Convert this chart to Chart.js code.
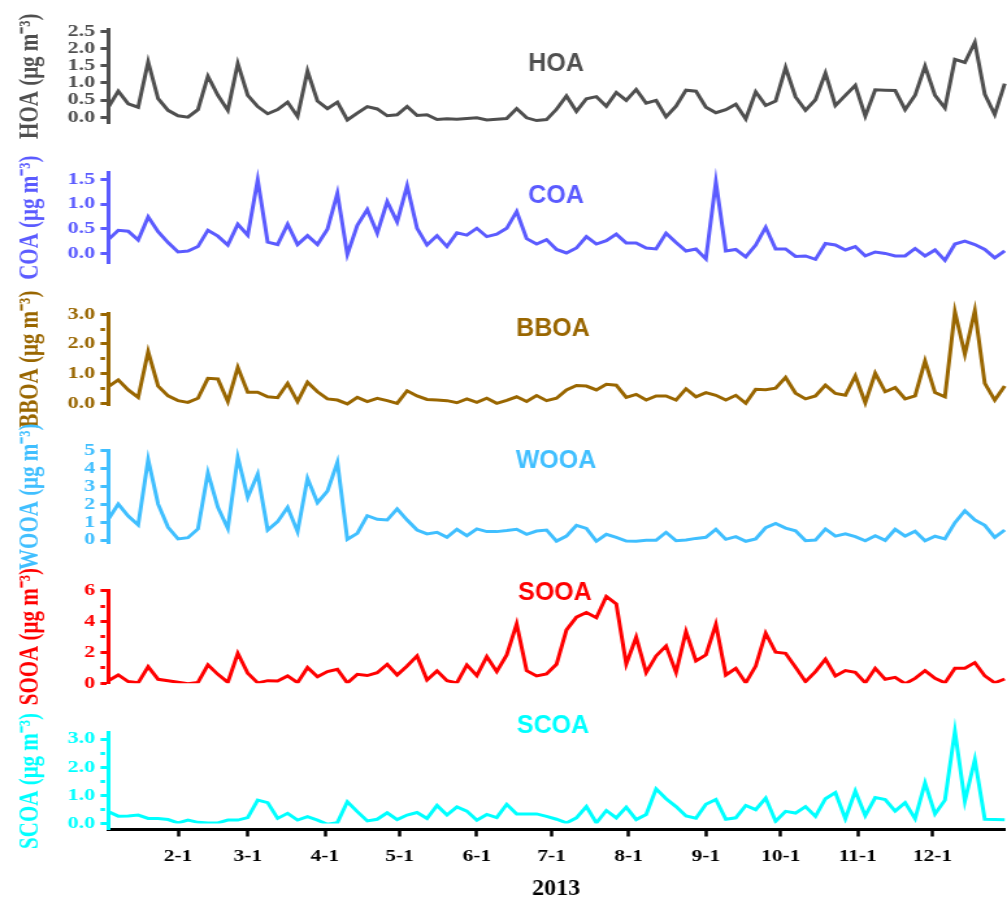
<!DOCTYPE html>
<html><head><meta charset="utf-8">
<script src="https://cdn.jsdelivr.net/npm/chart.js@4.4.1/dist/chart.umd.min.js"></script>
<style>
html,body{margin:0;padding:0;background:#fff;}
#wrap{position:relative;width:1007px;height:905px;overflow:hidden;background:#fff;}
</style></head><body><div id="wrap"></div>
<script>
// ---------------- DATA ----------------
// sample day of year 2013 (Jan 1 = 0), one sample every 4 days
const sampleDays = [3,7,11,15,19,23,27,31,35,39,43,47,51,55,59,63,67,71,75,79,83,87,91,95,99,103,107,111,115,119,123,127,131,135,139,143,147,151,155,159,163,167,171,175,179,183,187,191,195,199,203,207,211,215,219,223,227,231,235,239,243,247,251,255,259,263,267,271,275,279,283,287,291,295,299,303,307,311,315,319,323,327,331,335,339,343,347,351,355,359,363];

const monthTickDays = [31,59,90,120,151,181,212,243,273,304,334];
const monthTickLabels = ['2-1','3-1','4-1','5-1','6-1','7-1','8-1','9-1','10-1','11-1','12-1'];
const yearLabel = '2013';

const hoaValues = [0.29,0.76,0.39,0.29,1.62,0.54,0.2,0.04,0.0,0.22,
 1.2,0.64,0.2,1.57,0.64,0.31,0.1,0.22,0.44,0.02,
 1.35,0.47,0.25,0.44,-0.08,0.12,0.31,0.24,0.04,0.07,
 0.31,0.05,0.07,-0.07,-0.05,-0.06,-0.04,-0.02,-0.08,-0.06,
 -0.04,0.25,-0.02,-0.1,-0.07,0.23,0.62,0.17,0.54,0.6,
 0.32,0.72,0.49,0.81,0.41,0.49,0.01,0.32,0.79,0.76,
 0.29,0.13,0.22,0.38,-0.05,0.74,0.34,0.47,1.45,0.59,
 0.2,0.51,1.29,0.34,0.64,0.93,0.03,0.8,0.79,0.78,
 0.22,0.64,1.49,0.64,0.27,1.69,1.6,2.19,0.67,0.08,
 0.98];
const coaValues = [0.28,0.47,0.45,0.27,0.74,0.44,0.22,0.03,0.05,0.14,
 0.47,0.35,0.17,0.59,0.37,1.49,0.23,0.18,0.59,0.18,
 0.36,0.18,0.49,1.22,-0.02,0.57,0.89,0.41,1.05,0.64,
 1.37,0.51,0.17,0.36,0.14,0.42,0.37,0.51,0.34,0.39,
 0.51,0.85,0.30,0.19,0.28,0.08,0.01,0.11,0.34,0.19,
 0.26,0.39,0.21,0.21,0.11,0.09,0.41,0.22,0.05,0.09,
 -0.11,1.45,0.05,0.08,-0.07,0.17,0.53,0.09,0.09,-0.06,
 -0.05,-0.12,0.2,0.17,0.07,0.14,-0.05,0.03,0.0,-0.05,
 -0.05,0.1,-0.05,0.07,-0.14,0.19,0.25,0.18,0.08,-0.09,
 0.05];
const bboaValues = [0.56,0.79,0.45,0.2,1.74,0.58,0.25,0.09,0.03,0.17,
 0.84,0.82,0.06,1.21,0.37,0.37,0.22,0.19,0.67,0.06,
 0.71,0.39,0.15,0.11,-0.02,0.2,0.06,0.17,0.09,0.0,
 0.42,0.25,0.13,0.11,0.09,0.02,0.15,0.03,0.17,0.0,
 0.1,0.22,0.06,0.26,0.09,0.17,0.45,0.6,0.58,0.45,
 0.64,0.61,0.2,0.3,0.11,0.25,0.25,0.11,0.49,0.22,
 0.36,0.27,0.11,0.27,0.0,0.47,0.46,0.51,0.87,0.34,
 0.15,0.25,0.61,0.33,0.27,0.92,0.02,1.01,0.39,0.53,
 0.15,0.25,1.43,0.36,0.22,3.08,1.65,3.12,0.67,0.11,
 0.58];
const wooaValues = [1.16,2.01,1.34,0.84,4.51,2.01,0.71,0.06,0.13,0.62,
 3.77,1.83,0.65,4.63,2.39,3.69,0.56,1.03,1.83,0.47,
 3.45,2.09,2.74,4.35,0.04,0.37,1.36,1.16,1.12,1.74,
 1.12,0.56,0.34,0.43,0.15,0.6,0.24,0.62,0.47,0.47,
 0.53,0.6,0.32,0.5,0.56,-0.06,0.22,0.82,0.65,-0.07,
 0.32,0.15,-0.06,-0.07,-0.02,-0.02,0.43,-0.04,0.0,0.09,
 0.15,0.6,0.04,0.19,-0.07,0.06,0.69,0.93,0.67,0.52,
 -0.04,0.0,0.62,0.22,0.35,0.19,-0.04,0.24,-0.02,0.6,
 0.22,0.49,-0.04,0.21,0.06,0.97,1.64,1.12,0.82,0.15,
 0.56];
const sooaValues = [0.17,0.54,0.11,0.03,1.08,0.26,0.17,0.07,-0.03,0.06,
 1.19,0.58,0.06,1.94,0.65,0.03,0.17,0.15,0.48,0.04,
 1.02,0.43,0.76,0.91,0.02,0.58,0.5,0.69,1.23,0.54,
 1.12,1.77,0.22,0.8,0.17,0.03,1.19,0.5,1.73,0.76,
 1.84,3.84,0.82,0.48,0.6,1.23,3.46,4.28,4.58,4.25,
 5.62,5.14,1.25,2.98,0.69,1.77,2.42,0.71,3.35,1.45,
 1.84,3.82,0.54,0.97,0.03,1.12,3.24,2.01,1.94,1.04,
 0.11,0.76,1.56,0.48,0.82,0.71,0.03,0.97,0.26,0.39,
 -0.03,0.32,0.82,0.32,0.03,0.97,0.97,1.34,0.48,0.03,
 0.28];
const scoaValues = [0.42,0.26,0.27,0.3,0.18,0.18,0.14,0.02,0.12,0.04,
 0.02,0.02,0.12,0.12,0.21,0.83,0.74,0.18,0.36,0.12,
 0.24,0.12,-0.03,0.03,0.77,0.42,0.09,0.15,0.38,0.14,
 0.3,0.39,0.18,0.64,0.3,0.59,0.44,0.12,0.32,0.21,
 0.68,0.34,0.34,0.34,0.25,0.15,0.02,0.2,0.6,0.02,
 0.46,0.2,0.58,0.14,0.32,1.23,0.88,0.6,0.27,0.19,
 0.68,0.85,0.15,0.2,0.64,0.49,0.9,0.08,0.43,0.37,
 0.6,0.25,0.88,1.1,0.17,1.15,0.28,0.92,0.85,0.44,
 0.74,0.17,1.44,0.34,0.83,3.28,0.79,2.27,0.15,0.14,
 0.13];

const hoaTicks = [0,0.5,1,1.5,2,2.5], hoaTickLabels = ['0.0','0.5','1.0','1.5','2.0','2.5'], hoaMinor = [];
const coaTicks = [0,0.5,1,1.5], coaTickLabels = ['0.0','0.5','1.0','1.5'], coaMinor = [];
const bboaTicks = [0,1,2,3], bboaTickLabels = ['0.0','1.0','2.0','3.0'], bboaMinor = [0.5,1.5,2.5];
const wooaTicks = [0,1,2,3,4,5], wooaTickLabels = ['0','1','2','3','4','5'], wooaMinor = [];
const sooaTicks = [0,2,4,6], sooaTickLabels = ['0','2','4','6'], sooaMinor = [1,3,5];
const scoaTicks = [0,1,2,3], scoaTickLabels = ['0.0','1.0','2.0','3.0'], scoaMinor = [0.5,1.5,2.5];

// ---------------- LAYOUT / STYLE ----------------
const CW = 775, CH = 905, S = 1007 / CW;   // canvas drawn narrow, shown stretched
const AXIS_LEFT = 108.3 / S;
const RIGHT_PAD = CW - 1004.7 / S;
const serif = 'Liberation Serif, Times New Roman, serif';
const sans = 'Liberation Sans, Arial, sans-serif';

const panels = [
  {name:'HOA',  values:hoaValues,  color:'#4f4f4f', min:-0.18, max:2.58, ticks:hoaTicks,  labels:hoaTickLabels,  minor:hoaMinor,  top:29,    bottom:123.3, clipBottom:false, lx:556, ly:64},
  {name:'COA',  values:coaValues,  color:'#5b5bff', min:-0.2,  max:1.65, ticks:coaTicks,  labels:coaTickLabels,  minor:coaMinor,  top:172,   bottom:263.3, clipBottom:false, lx:556, ly:196},
  {name:'BBOA', values:bboaValues, color:'#996600', min:-0.06, max:3.03, ticks:bboaTicks, labels:bboaTickLabels, minor:bboaMinor, top:313.3, bottom:405.1, clipBottom:false, lx:553, ly:329},
  {name:'WOOA', values:wooaValues, color:'#40bfff', min:-0.19, max:5.04, ticks:wooaTicks, labels:wooaTickLabels, minor:wooaMinor, top:450,   bottom:543.4, clipBottom:false, lx:556, ly:461.5},
  {name:'SOOA', values:sooaValues, color:'#ff0000', min:0,     max:6.04, ticks:sooaTicks, labels:sooaTickLabels, minor:sooaMinor, top:590,   bottom:683.3, clipBottom:0,     lx:555, ly:593.5},
  {name:'SCOA', values:scoaValues, color:'#00ffff', min:-0.214,max:3.24, ticks:scoaTicks, labels:scoaTickLabels, minor:scoaMinor, top:732.3, bottom:829.5, clipBottom:-6,    lx:553, ly:726}
];

const textPlugin = {
  id: 'panelText',
  afterDraw(chart, args, opts) {
    const ctx = chart.ctx;
    (opts.items || []).forEach(it => {
      ctx.save();
      ctx.translate(it.x / S, it.y);
      ctx.scale(1 / S, 1);
      ctx.font = it.font;
      ctx.fillStyle = it.color;
      ctx.textAlign = 'center';
      ctx.textBaseline = 'middle';
      ctx.fillText(it.text, 0, 0);
      ctx.restore();
    });
  }
};

const wrap = document.getElementById('wrap');
const near = (a, b) => Math.abs(a - b) < 1e-9;

panels.forEach((p, k) => {
  const isBottom = k === panels.length - 1;
  const canvas = document.createElement('canvas');
  canvas.width = CW; canvas.height = CH;
  canvas.style.position = 'absolute'; canvas.style.left = '0px'; canvas.style.top = '0px';
  canvas.style.width = '1007px'; canvas.style.height = '905px';
  wrap.appendChild(canvas);

  const allTicks = p.ticks.concat(p.minor).sort((a, b) => a - b);
  const isMinor = v => p.minor.some(m => near(m, v));
  const items = [{text: p.name, x: p.lx, y: p.ly, color: p.color, font: 'bold 25px ' + sans}];
  if (isBottom) items.push({text: yearLabel, x: 556, y: 888.5, color: '#000', font: 'bold 24px ' + serif});

  new Chart(canvas, {
    type: 'line',
    data: {
      datasets: [{
        label: p.name,
        data: sampleDays.map((d, i) => ({x: d, y: p.values[i]})),
        borderColor: p.color,
        borderWidth: 3,
        pointRadius: 0,
        tension: 0,
        fill: false,
        clip: {left: false, right: false, top: false, bottom: p.clipBottom}
      }]
    },
    options: {
      responsive: false,
      animation: false,
      devicePixelRatio: 1,
      layout: {padding: {top: p.top, bottom: isBottom ? 0 : CH - p.bottom, left: 0, right: RIGHT_PAD}},
      plugins: {legend: {display: false}, tooltip: {enabled: false}, panelText: {items}},
      scales: {
        x: {
          type: 'linear', min: sampleDays[0], max: sampleDays[sampleDays.length - 1],
          display: isBottom,
          afterBuildTicks: s => { s.ticks = monthTickDays.map(v => ({value: v})); },
          afterFit: s => { s.height = isBottom ? CH - p.bottom : 0; },
          ticks: {
            color: '#000', autoSkip: false, maxRotation: 0, padding: 10,
            font: {family: serif, weight: 'bold', size: 16.5},
            callback: v => { const i = monthTickDays.findIndex(m => near(m, v)); return i >= 0 ? monthTickLabels[i] : ''; }
          },
          grid: {drawOnChartArea: false, drawTicks: true, tickLength: 7, tickWidth: 2.5, tickColor: '#000'},
          border: {display: true, color: '#000', width: 3}
        },
        y: {
          type: 'linear', min: p.min, max: p.max,
          afterBuildTicks: s => { s.ticks = allTicks.map(v => ({value: v})); },
          afterFit: s => { s.width = AXIS_LEFT; },
          ticks: {
            color: p.color, autoSkip: false, padding: 4,
            font: {family: serif, weight: 'bold', size: 17},
            callback: v => { const i = p.ticks.findIndex(t => near(t, v)); return i >= 0 ? p.labels[i] : ''; }
          },
          grid: {
            drawOnChartArea: false, drawTicks: true, tickLength: 6, tickWidth: 3, tickColor: p.color,
            tickBorderDash: c => (c.tick && isMinor(c.tick.value)) ? [3.5, 30] : []
          },
          border: {display: true, color: p.color, width: 3},
          title: {
            display: true, text: p.name + ' (μg m⁻³)', color: p.color,
            font: {family: serif, weight: 'bold', size: 21},
            padding: {top: 11, bottom: 0}
          }
        }
      }
    },
    plugins: [textPlugin]
  });
});
</script></body></html>
